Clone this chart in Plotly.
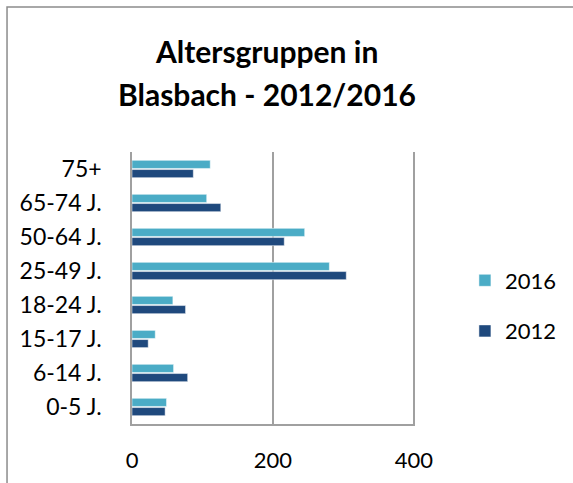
import plotly.graph_objects as go

categories = ["0-5 J.", "6-14 J.", "15-17 J.", "18-24 J.", "25-49 J.", "50-64 J.", "65-74 J.", "75+"]
values_2012 = [47, 79, 23, 76, 304, 216, 126, 87]
values_2016 = [49, 59, 33, 58, 280, 245, 106, 111]
tick_vals = [0, 200, 400]
tick_text = ["0", "200", "400"]
title_lines = ["Altersgruppen in", "Blasbach - 2012/2016"]

W, H = 573, 483
X_MAX = 401.5
L, T, B = 132, 152, 424
R = L + X_MAX * (414 - L) / 400.0

def px_x(p):
    return (p - L) / (R - L)

def px_y(p):
    return (B - p) / (B - T)

FONT = "Lato"
fig = go.Figure()
fig.add_trace(go.Bar(y=categories, x=values_2012, orientation="h", name="2012",
                     legendgroup="a", legendrank=2,
                     marker=dict(color="#1F497D", line=dict(color="white", width=0.5))))
fig.add_trace(go.Bar(y=categories, x=values_2016, orientation="h", name="2016",
                     legendgroup="b", legendrank=1,
                     marker=dict(color="#4BACC6", line=dict(color="white", width=0.5))))

annotations = []
for line, yc in zip(title_lines, [51, 94]):
    annotations.append(dict(text="<b>%s</b>" % line, xref="paper", yref="paper",
                            x=px_x(267), y=px_y(yc), xanchor="center", yanchor="middle",
                            showarrow=False, font=dict(family=FONT, size=30, color="black")))

fig.update_layout(
    width=W, height=H,
    margin=dict(l=L, r=W - R, t=T, b=H - B, autoexpand=False),
    paper_bgcolor="white", plot_bgcolor="white",
    barmode="group", bargap=0.46, bargroupgap=0.12,
    font=dict(family=FONT, color="black", size=22),
    annotations=annotations,
    legend=dict(x=px_x(465), xanchor="left", y=px_y(306), yanchor="middle",
                traceorder="grouped", font=dict(family=FONT, size=22),
                itemwidth=30, tracegroupgap=19, bgcolor="rgba(0,0,0,0)"),
    showlegend=True,
    shapes=[dict(type="rect", xref="paper", yref="paper",
                 x0=px_x(7), x1=px_x(700), y0=px_y(700), y1=px_y(7),
                 line=dict(color="#8C8C8C", width=1.5))],
)
fig.update_xaxes(range=[0, X_MAX], tickvals=tick_vals, ticktext=tick_text,
                 showgrid=True, gridcolor="#A0A0A0", gridwidth=1.5,
                 showline=True, linecolor="#A0A0A0", linewidth=1.5,
                 zeroline=False, ticks="", ticklabelstandoff=16,
                 tickfont=dict(family=FONT, size=22), fixedrange=True)
fig.update_yaxes(showgrid=False, showline=True, linecolor="#A0A0A0", linewidth=1.5,
                 zeroline=False, ticks="", ticklabelstandoff=24,
                 tickfont=dict(family=FONT, size=23), fixedrange=True)

fig.write_html("out.html", config={"displayModeBar": False},
               post_script="document.body.style.margin='0';document.body.style.overflow='hidden';")
